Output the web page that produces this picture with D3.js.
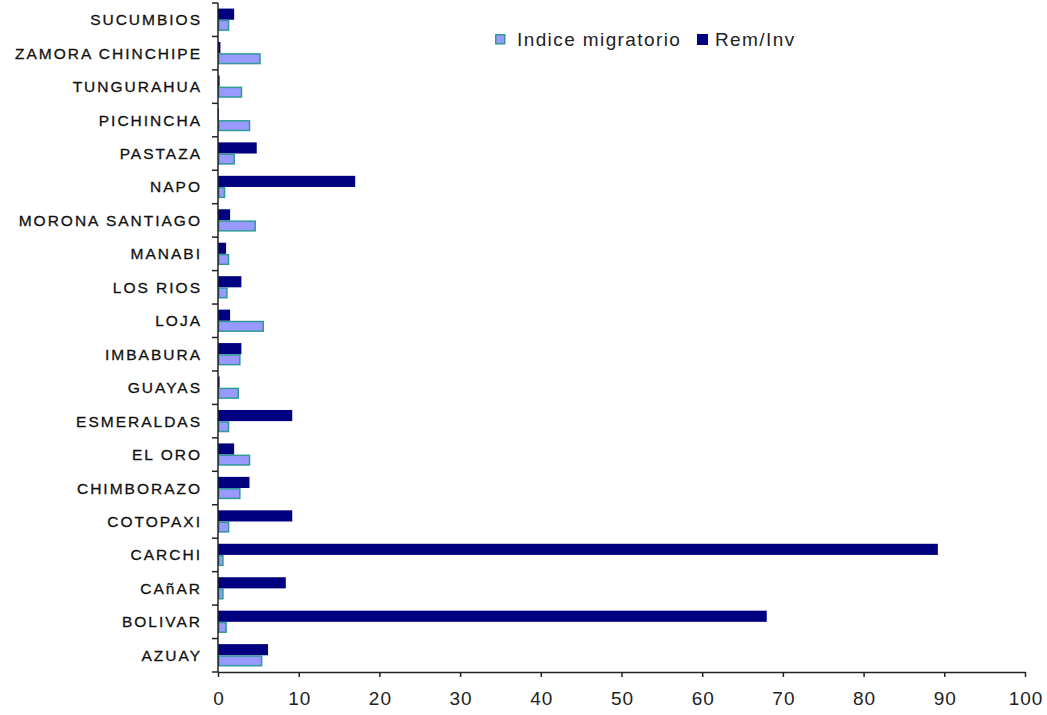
<!DOCTYPE html>
<html><head><meta charset="utf-8">
<script src="https://cdn.jsdelivr.net/npm/d3@7/dist/d3.min.js"></script>
<style>body{margin:0;background:#fff}svg{display:block}</style>
</head><body>
<svg id="c" width="1047" height="715"></svg>
<script>
const categories = ["SUCUMBIOS","ZAMORA CHINCHIPE","TUNGURAHUA","PICHINCHA","PASTAZA","NAPO","MORONA SANTIAGO","MANABI","LOS RIOS","LOJA","IMBABURA","GUAYAS","ESMERALDAS","EL ORO","CHIMBORAZO","COTOPAXI","CARCHI","CAñAR","BOLIVAR","AZUAY"];
const remInv = [2.0,0.3,0.2,0.1,4.8,17.0,1.5,1.0,2.9,1.5,2.9,0.2,9.2,2.0,3.9,9.2,89.2,8.4,68.0,6.2];
const indiceMigratorio = [1.4,5.3,3.0,4.0,2.1,0.9,4.7,1.4,1.2,5.7,2.8,2.6,1.4,4.0,2.8,1.4,0.7,0.7,1.1,5.5];
const xTicks = [0,10,20,30,40,50,60,70,80,90,100];
const seriesNames = ["Indice migratorio","Rem/Inv"];

const FONT = "Arial, 'Liberation Sans', sans-serif";
const svg = d3.select("#c");
const x = d3.scaleLinear().domain([0,100]).range([218,1025]);
const y = d3.scaleBand().domain(categories).range([3,672]);
const inner = d3.scaleBand().domain(["rem","idx"]).range([0,y.bandwidth()]).paddingOuter(0.5).paddingInner(0);

const g = svg.append("g");
categories.forEach((c,i)=>{
  g.append("rect").attr("x",x(0)).attr("y",y(c)+inner("rem"))
    .attr("width",x(remInv[i])-x(0)).attr("height",inner.bandwidth())
    .attr("fill","#000080");
  g.append("rect").attr("x",x(0)+0.75).attr("y",y(c)+inner("idx")+0.75)
    .attr("width",Math.max(0,x(indiceMigratorio[i])-x(0)-1.5)).attr("height",inner.bandwidth()-1.5)
    .attr("fill","#9999ff").attr("stroke","#2f9a96").attr("stroke-width",1.5);
});

// y axis
const ya = svg.append("g");
ya.append("line").attr("x1",x(0)).attr("x2",x(0)).attr("y1",3).attr("y2",672).attr("stroke","#222").attr("stroke-width",1.5);
const bounds = categories.map(c=>y(c)).concat([672]);
bounds.forEach(b=>ya.append("line").attr("x1",x(0)-6).attr("x2",x(0)).attr("y1",b).attr("y2",b).attr("stroke","#222").attr("stroke-width",1.5));
categories.forEach(c=>{
  ya.append("text").attr("x",202).attr("y",y(c)+y.bandwidth()/2+5.5)
    .attr("text-anchor","end").attr("font-family",FONT)
    .attr("font-size",15.5).attr("letter-spacing",2).attr("fill","#111")
    .attr("stroke","#111").attr("stroke-width",0.3).text(c);
});

// x axis
const xa = svg.append("g").attr("transform","translate(0,672)")
  .call(d3.axisBottom(x).tickValues(xTicks).tickSize(5).tickPadding(15).tickSizeOuter(0));
xa.select(".domain").attr("stroke","#222").attr("stroke-width",1.5);
xa.selectAll(".tick line").attr("stroke","#222").attr("stroke-width",1.5);
xa.selectAll("text").attr("font-family",FONT).attr("font-size",19).attr("letter-spacing",1).attr("dx",0.5).attr("fill","#222");

// legend
const lg = svg.append("g");
lg.append("rect").attr("x",495.75).attr("y",34.75).attr("width",9).attr("height",9).attr("fill","#9999ff").attr("stroke","#2f9a96").attr("stroke-width",1.5);
lg.append("text").attr("x",517).attr("y",46).attr("font-family",FONT).attr("font-size",19).attr("letter-spacing",1.4).attr("fill","#222").text(seriesNames[0]);
lg.append("rect").attr("x",697).attr("y",34).attr("width",11).attr("height",11).attr("fill","#000080");
lg.append("text").attr("x",715).attr("y",46).attr("font-family",FONT).attr("font-size",19).attr("letter-spacing",1.4).attr("fill","#222").text(seriesNames[1]);
</script>
</body></html>
